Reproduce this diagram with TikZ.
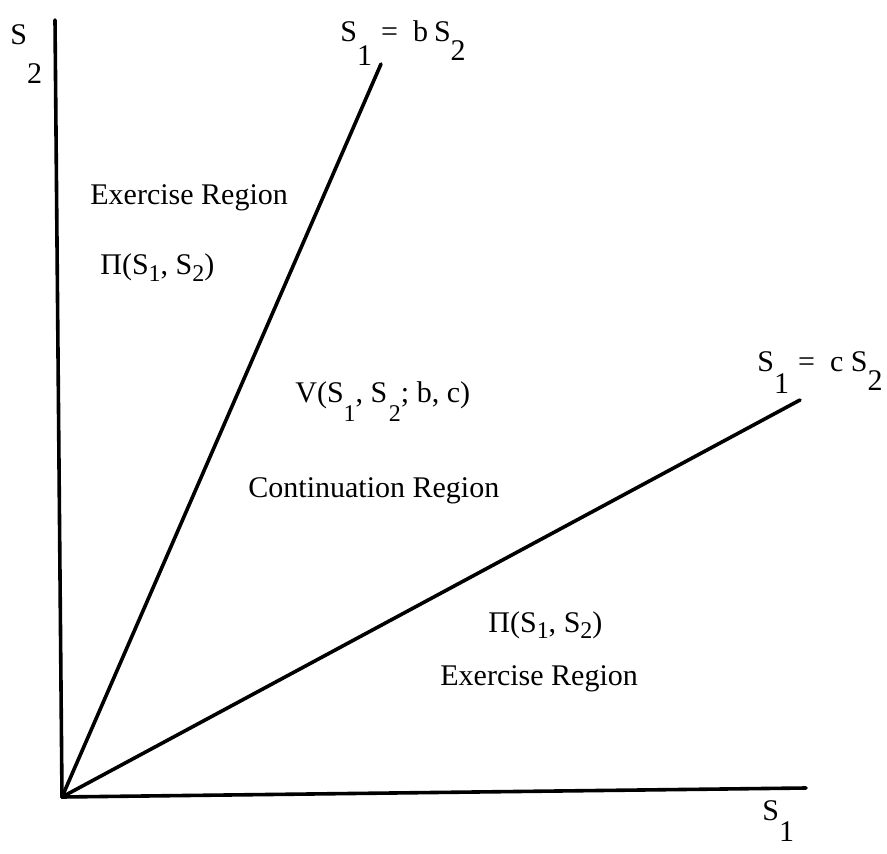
\documentclass[tikz,border=0pt]{standalone}
\usepackage{fontspec}
\setmainfont{Liberation Serif}
\usetikzlibrary{positioning}

% dropped indices as the scan sets them
\newcommand{\lowsub}[2][0.8em]{\raisebox{-#1}{#2}}
\newcommand{\smallsub}[1]{\raisebox{-0.22em}{\fontsize{12}{14}\selectfont #1}}

\begin{document}
\begin{tikzpicture}[
  x=0.5pt, y=-0.5pt,
  axis/.style={line width=1.8pt, line cap=round},
  bound/.style={line width=1.8pt, line cap=round},
  lbl/.style={anchor=base west, inner sep=0pt, font=\fontsize{15}{18}\selectfont},
]
\useasboundingbox (0,0) rectangle (887,854);

% ---------- axes ----------
\coordinate (O) at (62,797);
\coordinate (Vtop) at (55,20);
\coordinate (Hend) at (806,788);
\draw[axis] (O) -- (Vtop);
\draw[axis] (O) -- (Hend);

% ---------- free boundaries ----------
\coordinate (Btop) at (381,64);
\coordinate (Cend) at (800,400);
\draw[bound] (O) -- (Btop);
\draw[bound] (O) -- (Cend);

% ---------- axis and boundary labels ----------
\node[lbl] (S2lbl) at (10,45) {S\lowsub[1.3em]{2}};
\node[lbl] (S1lbl) at (762,820) {S\lowsub[0.7em]{1}};
\node[lbl] (Blbl) at (340,42)
  {S\lowsub{1}\hspace{0.3em}=\hspace{0.5em}b\hspace{0.2em}S\lowsub[0.62em]{2}};
\node[lbl] (Clbl) at (757,372)
  {S\lowsub[0.72em]{1}\hspace{0.3em}=\hspace{0.5em}c\hspace{0.25em}S\lowsub[0.62em]{2}};

% ---------- regions ----------
\node[lbl] (exTop) at (90,205) {Exercise Region};
\node[lbl] (piTop) at (100,275) {Π(S\smallsub{1}, S\smallsub{2})};
\node[lbl] (val) at (295,403)
  {V(S\lowsub[0.62em]{\fontsize{12}{14}\selectfont 1}, S\hspace{0.05em}\lowsub[0.62em]{\fontsize{12}{14}\selectfont 2}; b, c)};
\node[lbl] (cont) at (248,498) {Continuation Region};
\node[lbl] (piBot) at (488,632) {Π(S\smallsub{1}, S\smallsub{2})};
\node[lbl] (exBot) at (440,685) {Exercise Region};

\end{tikzpicture}
\end{document}
